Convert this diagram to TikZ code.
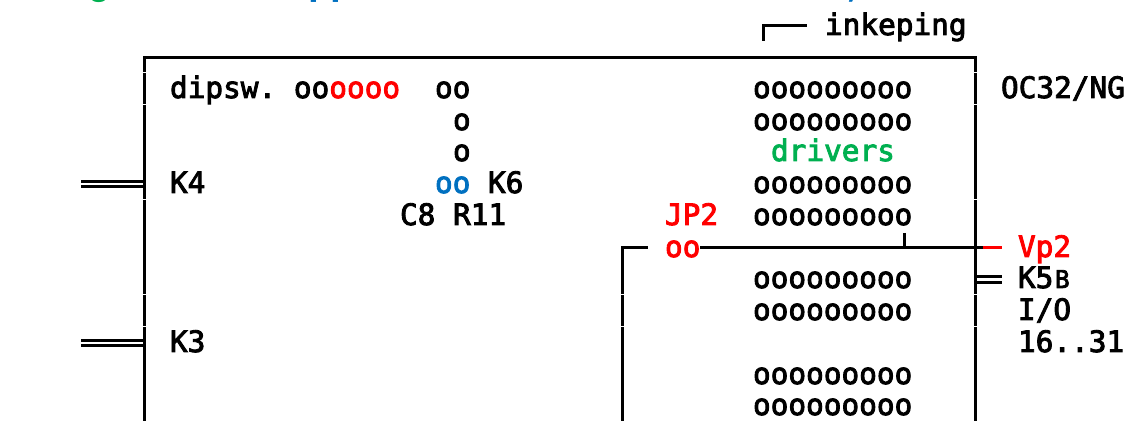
\documentclass[tikz,border=0pt]{standalone}
\usepackage{fontspec}
\setmonofont{DejaVu Sans Mono}[RawFeature={embolden=3}]
\newfontfamily\titlefont{Liberation Mono Bold}
\definecolor{gr}{RGB}{0,176,80}
\definecolor{bl}{RGB}{0,112,192}
\tikzset{
  x=1bp,y=-1bp,
  txt/.style={inner sep=0pt,outer sep=0pt,anchor=base west,font=\fontsize{29.4bp}{31.7bp}\selectfont\ttfamily},
  ttl/.style={inner sep=0pt,outer sep=0pt,anchor=base west,font=\fontsize{38.3bp}{40bp}\selectfont\titlefont},
  ln/.style={line width=3bp,line cap=butt},
  seg/.style={ln,dash pattern=on 31.3bp off 0.4bp},
  tick/.style={line width=2.4bp},
  dbl/.style={line width=2.8bp}
}
\begin{document}
\begin{tikzpicture}
\useasboundingbox (0,0) rectangle (1130,436);
% top clipped text
\begin{scope}
\clip (0,0) rectangle (1130,436);
\node[ttl,text=gr] (tg) at (87,-5) {g};
\node[ttl,text=bl] (tp) at (308,-5) {pp};
\node[ttl,text=bl] (tc) at (844,-4) {,};
\end{scope}
% outlines
\coordinate (tl) at (144,57.5); \coordinate (tr) at (975,57.5);
\coordinate (tlb) at (144,72.5); \coordinate (trb) at (975,72.5);
\coordinate (lgs) at (144,72.9); \coordinate (rgs) at (975,72.9);
\coordinate (bl) at (144,421); \coordinate (brr) at (975,421);
\draw[ln] (tlb) -- (tl) -- (tr) -- (trb);
\draw[seg] (lgs) -- (bl);
\draw[seg] (rgs) -- (brr);
% inkeping bracket
\coordinate (ia) at (763,41); \coordinate (ib) at (763,25.7); \coordinate (ic) at (807,25.7);
\draw[ln] (ia) -- (ib) -- (ic);
\node[txt] (ink) at (825,35) {inkeping};
% inner line
\coordinate (jb) at (622,262.8); \coordinate (jbb) at (622,247.3); \coordinate (jc) at (648,247.3);
\coordinate (js) at (622,263.2); \coordinate (ja) at (622,421);
\draw[ln] (jb) -- (jbb) -- (jc);
\draw[seg] (js) -- (ja);
\coordinate (jd) at (700,247.3); \coordinate (je) at (983,247.3); \coordinate (jf) at (1002,247.3);
\draw[ln] (jd) -- (je);
\draw[ln,red] (je) -- (jf);
\coordinate (ta) at (904.5,233); \coordinate (tb) at (904.5,247);
\draw[tick] (ta) -- (tb);
% connectors
\foreach \y in {184,343}{
  \coordinate (c\y a) at (81,\y-2.7); \coordinate (c\y b) at (144,\y-2.7);
  \coordinate (c\y c) at (81,\y+2.7); \coordinate (c\y d) at (144,\y+2.7);
  \draw[dbl] (c\y a) -- (c\y b);
  \draw[dbl] (c\y c) -- (c\y d);
}
\coordinate (k5a) at (975,276.5); \coordinate (k5b) at (1002,276.5);
\coordinate (k5c) at (975,282.2); \coordinate (k5d) at (1002,282.2);
\draw[dbl] (k5a) -- (k5b);
\draw[dbl] (k5c) -- (k5d);
% texts
\node[txt] (dip) at (170,98) {dipsw. oo\textcolor{red}{oooo}};
\node[txt] (t1) at (435,98) {oo};
\node[txt] (t2) at (453,130) {o};
\node[txt] (t3) at (453,161) {o};
\node[txt,text=bl] (t4) at (435,193) {oo};
\node[txt] (k6) at (488,193) {K6};
\node[txt] (k4) at (170,193) {K4};
\node[txt] (c8) at (400,225) {C8 R11};
\node[txt] (k3) at (170,352) {K3};
\node[txt,text=red] (jp) at (665,225) {JP2};
\node[txt,text=red] (joo) at (665,257) {oo};
\node[txt,text=red] (vp) at (1018,257) {Vp2};
\node[txt] (k5) at (1018,288) {K5\makebox[17.7bp][c]{\fontsize{24.5bp}{31.7bp}\selectfont B}};
\node[txt] (io) at (1018,320) {I/O};
\node[txt] (r) at (1018,352) {16..31};
\node[txt] (oc) at (1001,98) {OC32/NG};
\node[txt,text=gr] (dr) at (771,161) {drivers};
\foreach \n/\y in {a/98,b/130,c/193,d/225,e/288,f/320,g/384,h/415}{
  \node[txt] (row\n) at (753,\y) {ooooooooo};
}
\end{tikzpicture}
\end{document}
